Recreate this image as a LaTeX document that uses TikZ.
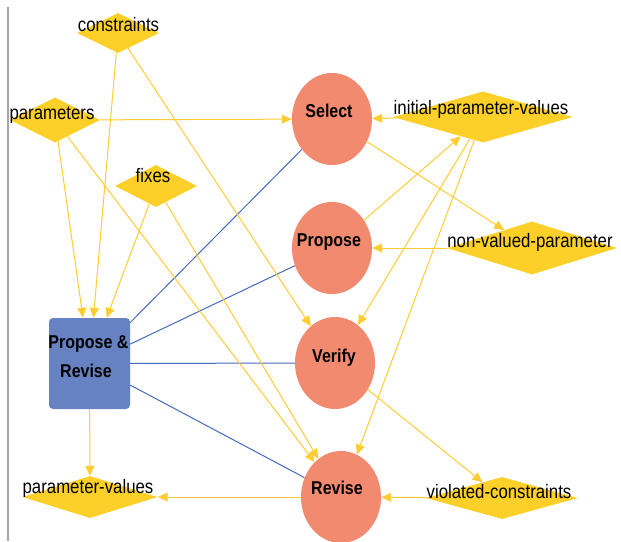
\documentclass[tikz,border=0pt]{standalone}
\usepackage{fontspec}
\usepackage{graphicx}
\setmainfont{Liberation Sans}
\usetikzlibrary{shapes.geometric,arrows.meta}
\definecolor{dyel}{RGB}{252,208,40}
\definecolor{lyel}{RGB}{255,204,51}
\definecolor{salmon}{RGB}{242,138,112}
\definecolor{boxblue}{RGB}{102,130,194}
\definecolor{lblue}{RGB}{70,105,190}
\newcommand{\vstr}[1]{\scalebox{1}[1.16]{#1}}
\begin{document}
\begin{tikzpicture}[x=1pt,y=-1pt,
  dia/.style={diamond,fill=dyel,draw=none,inner sep=0pt},
  circ/.style={ellipse,fill=salmon,draw=none,inner sep=0pt,minimum width=80pt,minimum height=92pt},
  prbox/.style={rectangle,rounded corners=4pt,fill=boxblue,draw=none,inner sep=0pt,minimum width=81pt,minimum height=91pt},
  lbl/.style={font=\fontsize{16.8}{18}\selectfont,inner sep=0pt,anchor=base},
  blbl/.style={font=\fontsize{16}{18}\selectfont\bfseries,inner sep=0pt,anchor=base},
  yarr/.style={draw=lyel,line width=1pt,-{Triangle[length=10pt,width=9pt]}},
  bline/.style={draw=lblue,line width=1pt},
]
\useasboundingbox (0,0) rectangle (621,541);
\draw[black!35,line width=2pt] (8,7) -- (8,541);

% diamonds
\node[dia,minimum width=82pt,minimum height=40pt] (con) at (118,33) {};
\node[dia,minimum width=90pt,minimum height=45pt] (par) at (55,120) {};
\node[dia,minimum width=82pt,minimum height=42pt] (fix) at (156,186) {};
\node[dia,minimum width=180pt,minimum height=51pt] (ipv) at (483,117) {};
\node[dia,minimum width=170pt,minimum height=53pt] (nvp) at (532,248) {};
\node[dia,minimum width=152pt,minimum height=42pt] (vio) at (502,498) {};
\node[dia,minimum width=135pt,minimum height=42pt] (pv) at (90,497) {};

% circles
\node[circ] (sel) at (332,119) {};
\node[circ] (pro) at (332,248) {};
\node[circ] (ver) at (335,363) {};
\node[circ] (rev) at (341,497) {};

% box
\node[prbox] (pr) at (89.5,363.5) {};

% blue connectors
\draw[bline] (pr) -- (sel);
\draw[bline] (pr) -- (pro);
\draw[bline] (pr) -- (ver);
\draw[bline] (pr) -- (rev);

% yellow connectors
\draw[yarr] (par) -- (sel);
\draw[yarr] (con) -- (pr);
\draw[yarr] (par) -- (pr);
\draw[yarr] (fix) -- (pr);
\draw[yarr] (con) -- (ver);
\draw[yarr] (par) -- (rev);
\draw[yarr] (fix) -- (rev);
\draw[yarr] (sel) -- (nvp);
\draw[yarr] (pro) -- (ipv);
\draw[yarr] (ipv) -- (sel);
\draw[yarr] (ipv) -- (ver);
\draw[yarr] (ipv) -- (rev);
\draw[yarr] (nvp) -- (pro);
\draw[yarr] (ver) -- (vio);
\draw[yarr] (vio) -- (rev);
\draw[yarr] (rev) -- (pv);
\draw[yarr] (pr) -- (pv);

% labels
\node[lbl] (tcon) at (118.5,31) {\vstr{constraints}};
\node[lbl] (tpar) at (52,119) {\vstr{parameters}};
\node[lbl] (tfix) at (153,182) {\vstr{fixes}};
\node[lbl] (tipv) at (481,114) {\vstr{initial-parameter-values}};
\node[lbl] (tnvp) at (530,247) {\vstr{non-valued-parameter}};
\node[lbl] (tvio) at (499,498) {\vstr{violated-constraints}};
\node[lbl] (tpv) at (88,493) {\vstr{parameter-values}};

\node[blbl] (tsel) at (329,117) {\vstr{Select}};
\node[blbl] (tpro) at (329,246) {\vstr{Propose}};
\node[blbl] (tver) at (334,362) {\vstr{Verify}};
\node[blbl] (trev) at (337,494) {\vstr{Revise}};
\node[blbl] (tpr1) at (88.5,348) {\vstr{Propose \&}};
\node[blbl] (tpr2) at (86,377) {\vstr{Revise}};
\end{tikzpicture}
\end{document}
